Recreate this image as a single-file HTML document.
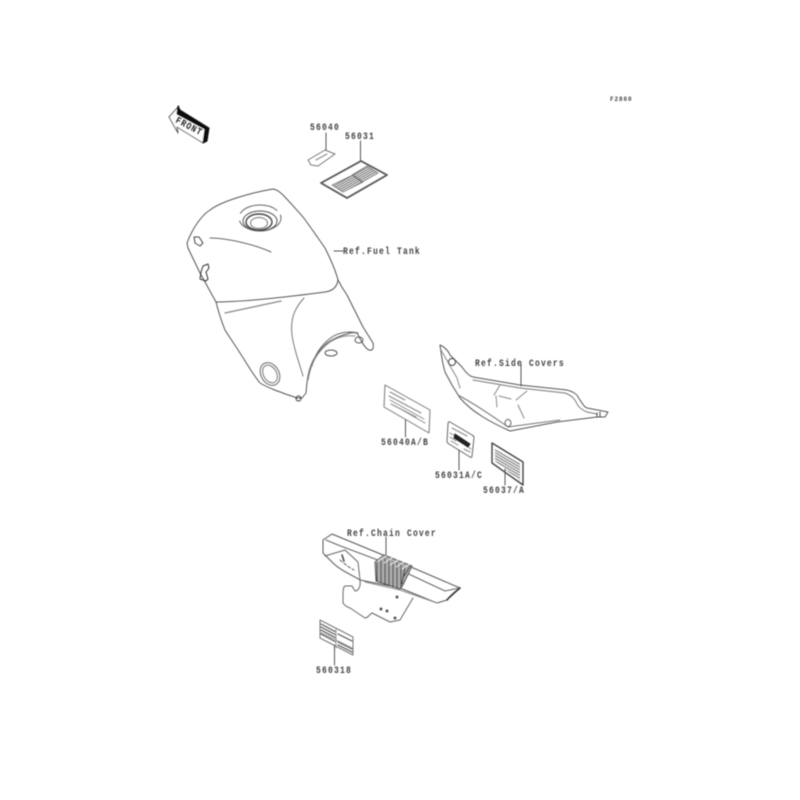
<!DOCTYPE html>
<html>
<head>
<meta charset="utf-8">
<style>
html,body{margin:0;padding:0;background:#fff;width:800px;height:800px;overflow:hidden}
svg{display:block}
text{font-family:"Liberation Mono",monospace;font-size:8px;fill:#444;font-weight:bold;letter-spacing:1.200px}
</style>
</head>
<body>
<svg width="800" height="800" viewBox="0 0 800 800" xmlns="http://www.w3.org/2000/svg">
<defs>
<filter id="b" x="-5%" y="-5%" width="110%" height="110%"><feGaussianBlur stdDeviation="0.4"/></filter>
<pattern id="h" width="3" height="2" patternUnits="userSpaceOnUse" patternTransform="rotate(-29)"><rect width="3" height="1" fill="#666"/></pattern>
<pattern id="h2" width="3" height="2.4" patternUnits="userSpaceOnUse" patternTransform="rotate(30)"><rect width="3" height="1.1" fill="#777"/></pattern>
</defs>
<g filter="url(#b)" fill="none" stroke="#555" stroke-width="1" stroke-linejoin="round" stroke-linecap="round">

<!-- FRONT arrow -->
<path d="M169 117L179 106L177 113L207 128L203 143L177 127L178 133Z" fill="#fff"/>
<path d="M178 106L177 114L205 129L203 143L207 141L209 128L180 110Z" fill="#111" stroke="#111"/>

<!-- top labels -->
<path d="M326 133V150M360.500 141V161M334 251H343"/>
<path d="M308 160L325 150L335 154L318 166L311 165Z" stroke="#777"/>
<path d="M316 160L327 154" stroke="#888"/>
<path d="M321 183L361 161L387 175L347 198Z" stroke="#555" stroke-width="1.800"/>
<path d="M332 185L353 175L363 182L343 192Z" fill="url(#h)" stroke="#777" stroke-width=".8"/>
<path d="M352 175L367 166L378 173L362 182Z" fill="url(#h)" stroke="#777" stroke-width=".8"/>

<!-- Fuel tank -->
<path d="M187 243C193 227 202 215 210 210C222 201 250 193 273 189C280 190 285 197 303 217C312 229 318 238 325 248C332 262 336 272 338 280C342 288 345 292 347 295L363 327L373 343C374 348 373 351 369 350C364 348 360 338 357 333C352 332 349 333 347 334C339 336 333 339 327 343C319 350 315 356 312 363C308 372 307 381 306 393L302 398L297 398C280 392 268 388 260 383C252 373 246 362 240 353C233 342 228 335 225 330C221 320 218 310 216 302L200 273L188 248Z"/>
<path d="M216 302C240 302 280 298 325 292C333 291 337 287 338 280"/>
<path d="M210 238C228 238 256 245 271 252" stroke="#666"/>
<path d="M225 313L281 301" stroke="#888" stroke-width="1.300"/>
<path d="M304 298C295 308 290 318 292 335C294 350 300 365 303 376" stroke="#777"/>
<path d="M312 366C315 354 322 344 332 337C340 332 350 331 358 333" stroke="#666"/>
<path d="M308 380C311 362 318 351 330 342C338 337 345 335 355 336" stroke="#888"/>
<!-- filler cap -->
<ellipse cx="260" cy="218" rx="21" ry="13" stroke="#666" stroke-dasharray="26 5 20 8 40 6"/>
<ellipse cx="260" cy="221" rx="17" ry="10"/>
<ellipse cx="259" cy="222" rx="13" ry="8" stroke="#444" stroke-width="1.400"/>
<ellipse cx="259" cy="223" rx="8.500" ry="5.500" stroke="#777"/>
<!-- mounts -->
<path d="M194 237L199 237L203 243L200 246L195 243Z" stroke="#444"/>
<path d="M201 272L203 266L208 264L209 268L206 272L208 279L206 281L200 279Z" stroke="#333"/>
<ellipse cx="331" cy="353" rx="6" ry="3" stroke="#555"/>
<ellipse cx="359" cy="340" rx="4" ry="3" stroke="#555"/>
<circle cx="298.500" cy="398.500" r="2.500" stroke="#333"/>
<!-- drain ring -->
<ellipse cx="270" cy="374" rx="9" ry="12" transform="rotate(-30 270 374)" stroke="#666"/>
<ellipse cx="270" cy="374" rx="6.500" ry="9.500" transform="rotate(-30 270 374)" stroke="#777"/>

<!-- Side covers -->
<path d="M440 345C445 347 449 352 450 355C456 361 459 364 462 367C466 373 469 376 473 377L520 385L567 390C574 392 577 394 578 397C582 403 584 407 587 408L608 412L605 417L597 417L557 422L510 431C490 422 472 412 460 398L452 385L445 372C442 362 441 352 440 345Z"/>
<path d="M473 380L520 388L565 393C571 395 574 398 576 402C578 407 582 410 587 412L597 414" stroke="#777"/>
<path d="M458 395C480 407 495 418 508 427L530 424L560 420" stroke="#777"/>
<path d="M500 385L494 395M499 396L511 399M527 391L516 400M496 396L497 407M518 405L524 418" stroke="#888"/>
<path d="M441 350L457 378L460 388" stroke="#888"/>
<circle cx="452" cy="362" r="3.500" stroke="#444"/>
<ellipse cx="508" cy="423" rx="3" ry="3.500" stroke="#666"/>
<path d="M521 364V386"/>
<path d="M597 413L597 417M600 412L600 417" stroke="#444"/>

<!-- 56040A/B -->
<path d="M385 385L430 410L429 433L384 407Z" stroke="#777"/>
<path d="M390 392L405 400M389 396L421 413M390 400L424 419M391 404L416 417M397 407L425 423" stroke="#888"/>
<path d="M405.500 420V437"/>

<!-- 56031A/C -->
<path d="M450 422L472 435Q474 436 474 438L472 456Q472 458 470 457L449 444Q447 443 447 441L448 424Q448 421 450 422Z" stroke="#666"/>
<path d="M452 428L467 436M450 433L457 437M450 437L456 441M451 441L458 445M464 449L470 452M465 445L471 449" stroke="#888"/>
<path d="M455 434L470 444L468 447L454 438Z" fill="#222" stroke="#222"/>
<path d="M459 450V470"/>

<!-- 56037/A -->
<path d="M492 443L523 462L523 485L492 463Z" stroke="#444" stroke-width="1.400"/>
<path d="M495 448L520 463L520 481L495 461Z" fill="url(#h2)" stroke="none"/>
<path d="M505 469V485"/>

<!-- Chain cover -->
<path d="M323 540L332 534L383 555L460 588L447 600L437 603L400 588L360 580C350 574 340 570 333 563L323 553Z"/>
<path d="M326 540L338 545L383 562L445 591L460 588" stroke="#666"/>
<path d="M325 556L345 550L358 562L360 580" stroke="#666"/>
<path d="M340 560C346 565 350 568 354 570" stroke="#666" stroke-dasharray="3 2"/>
<path d="M342 555L344 561" stroke="#444" stroke-width="1.500"/>
<path d="M447 600C450 596 455 592 460 588" stroke="#333" stroke-width="1.500"/>
<path d="M437 603L400 590L365 582" stroke="#888"/>
<!-- ribs -->
<path d="M375 562L384 555L412 566L403 585L400 589L376 581Z" fill="#aaa" stroke="#555"/>
<path d="M377 563V581M381 561L381 582M385 559L385 584M389 560L389 585M393 562L393 587M397 563L397 588M401 565L401 588M405 567L402 584M410 566L404 576" stroke="#333" stroke-width="1"/>
<path d="M378 561L386 556M384 563L392 558M390 565L398 560M396 567L404 562M402 569L410 564" stroke="#eee"/>
<path d="M386 537V555"/>
<!-- plate -->
<path d="M360 581C361 587 358 591 355 591L352 586L345 586C343 587 343 590 343 603C345 606 347 607 350 608L365 618C368 618 370 614 372 613L390 622L400 620L413 598" stroke="#666"/>
<circle cx="397" cy="597" r="1" fill="#555"/>
<circle cx="381" cy="609" r="1" fill="#555"/>
<circle cx="387" cy="611" r="1" fill="#555"/>
<circle cx="395" cy="618" r="1" fill="#555"/>

<!-- 560318 -->
<path d="M320 620L353 637L353 655L320 638Z" stroke="#777"/>
<path d="M321 624L336 632M321 627L336 635M321 630L336 638M321 634L336 642M338 634L352 641M338 645L352 652M338 642L352 649" stroke="#555" stroke-width="1.200"/>
<path d="M336 628V648M320 632L352 648" stroke="#999"/>
<path d="M334.500 645V665"/>
</g>

<g filter="url(#b)">
<text transform="translate(175 122) rotate(28) scale(1 1.200)" style="font-size:8px;letter-spacing:1px;fill:#222">FRONT</text>
<text transform="translate(310 130) scale(1 1.300)">56040</text>
<text transform="translate(345 139) scale(1 1.300)">56031</text>
<text transform="translate(343 254) scale(1 1.300)">Ref.Fuel Tank</text>
<text transform="translate(610 101)" style="font-size:6px;letter-spacing:.9px">F2860</text>
<text transform="translate(475 366) scale(1 1.300)">Ref.Side Covers</text>
<text transform="translate(381 445) scale(1 1.300)">56040A/B</text>
<text transform="translate(435 478) scale(1 1.300)">56031A/C</text>
<text transform="translate(483 493) scale(1 1.300)">56037/A</text>
<text transform="translate(347 536) scale(1 1.300)">Ref.Chain Cover</text>
<text transform="translate(316 673) scale(1 1.300)">560318</text>
</g>
</svg>
</body>
</html>
